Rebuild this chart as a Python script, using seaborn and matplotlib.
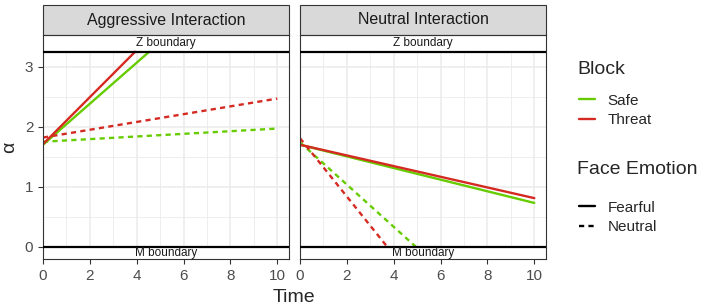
import pandas as pd
import matplotlib
matplotlib.use('Agg')
import matplotlib.pyplot as plt
import seaborn as sns
from matplotlib.lines import Line2D
from matplotlib.patches import Rectangle

sns.set_style('white')
plt.rcParams['font.family'] = ['Liberation Sans', 'DejaVu Sans']

# 数据: 每条线的起点和终点
facets = ['Aggressive Interaction', 'Neutral Interaction']
line_facet = ['Aggressive Interaction'] * 4 + ['Neutral Interaction'] * 4
line_block = ['Safe', 'Threat', 'Safe', 'Threat', 'Safe', 'Threat', 'Safe', 'Threat']
line_emotion = ['Fearful', 'Fearful', 'Neutral', 'Neutral', 'Fearful', 'Fearful', 'Neutral', 'Neutral']
t_start = [0, 0, 0, 0, 0, 0, 0, 0]
a_start = [1.70, 1.71, 1.75, 1.82, 1.70, 1.70, 1.74, 1.81]
t_end = [4.53, 3.93, 10, 10, 10, 10, 4.94, 3.72]
a_end = [3.25, 3.25, 1.97, 2.47, 0.73, 0.81, 0.0, 0.0]
z_bound = 3.25
m_bound = 0.0

rows = []
for i in range(len(line_facet)):
    for t, a in [(t_start[i], a_start[i]), (t_end[i], a_end[i])]:
        rows.append({'facet': line_facet[i], 'Block': line_block[i],
                     'Face Emotion': line_emotion[i], 'Time': t, 'alpha': a})
df = pd.DataFrame(rows)

palette = {'Safe': '#66CC00', 'Threat': '#D42A22'}
dashes = {'Fearful': '', 'Neutral': (2.2, 1.8)}

fig = plt.figure(figsize=(7.04, 3.08), dpi=100)
W, H = 704, 308
axes = [fig.add_axes([43 / W, 1 - 259 / H, 246 / W, 224 / H]),
        fig.add_axes([300 / W, 1 - 259 / H, 246 / W, 224 / H])]

for ax, name in zip(axes, facets):
    sub = df[df['facet'] == name]
    ax.set_axisbelow(True)
    ax.set_xlim(0, 10.5)
    ax.set_ylim(-0.205, 3.53)
    ax.set_xticks([0, 2, 4, 6, 8, 10])
    ax.set_xticks([1, 3, 5, 7, 9], minor=True)
    ax.set_yticks([0, 1, 2, 3])
    ax.set_yticks([0.5, 1.5, 2.5, 3.5], minor=True)
    ax.grid(which='major', color='#EBEBEB', lw=1.1)
    ax.grid(which='minor', color='#EBEBEB', lw=0.6)
    # 边界区域
    ax.axhspan(z_bound, 4, color='white', zorder=1)
    ax.axhspan(-1, m_bound, color='white', zorder=1)
    sns.lineplot(data=sub, x='Time', y='alpha', hue='Block', style='Face Emotion',
                 palette=palette, dashes=dashes, lw=1.7, legend=False,
                 estimator=None, ax=ax, zorder=2)
    ax.axhline(z_bound, color='black', lw=1.6, zorder=3)
    ax.axhline(m_bound, color='black', lw=1.6, zorder=3)
    ax.text(5.25, (z_bound + 3.53) / 2, 'Z boundary', ha='center', va='center',
            fontsize=8.5, color='#1A1A1A', zorder=4)
    ax.text(5.25, (m_bound - 0.205) / 2 - 0.005, 'M boundary', ha='center', va='center',
            fontsize=8.5, color='#1A1A1A', zorder=4)
    # 分面标题
    ax.add_patch(Rectangle((0, 1), 1, 30 / 224, transform=ax.transAxes, clip_on=False,
                           facecolor='#D9D9D9', edgecolor='#333333', lw=0.8))
    ax.text(0.5, 1 + 15 / 224, name, transform=ax.transAxes, ha='center', va='center',
            fontsize=11.5, color='#1A1A1A')
    for s in ax.spines.values():
        s.set_color('#333333')
        s.set_linewidth(0.8)
    ax.tick_params(which='major', length=3.5, width=0.8, color='#333333',
                   labelsize=11, labelcolor='#4D4D4D', pad=3.5, left=True, bottom=True)
    ax.tick_params(which='minor', length=0)
    ax.set_xlabel('')
    ax.set_ylabel('')

axes[1].tick_params(labelleft=False, left=False)
axes[0].set_ylabel('α', fontsize=14, labelpad=5)
fig.text(294 / W, 1 - 297 / H, 'Time', ha='center', va='center', fontsize=14)

# 图例
fig.text(577 / W, 1 - 70 / H, 'Block', ha='left', va='center', fontsize=14)
h1 = [Line2D([], [], color=palette[k], lw=1.7) for k in ['Safe', 'Threat']]
fig.legend(h1, ['Safe', 'Threat'], loc='upper left', borderpad=0,
           bbox_to_anchor=(571 / W, 1 - 86 / H), frameon=False, fontsize=11,
           handlelength=1.05, handletextpad=0.85, labelspacing=0.38)

fig.text(577 / W, 1 - 170 / H, 'Face Emotion', ha='left', va='center', fontsize=14)
h2 = [Line2D([], [], color='black', lw=1.7, linestyle='-'),
      Line2D([], [], color='black', lw=1.7, dashes=dashes['Neutral'])]
fig.legend(h2, ['Fearful', 'Neutral'], loc='upper left', borderpad=0,
           bbox_to_anchor=(571 / W, 1 - 193 / H), frameon=False, fontsize=11,
           handlelength=1.05, handletextpad=0.85, labelspacing=0.38)

fig.savefig('out.png', dpi=100)
